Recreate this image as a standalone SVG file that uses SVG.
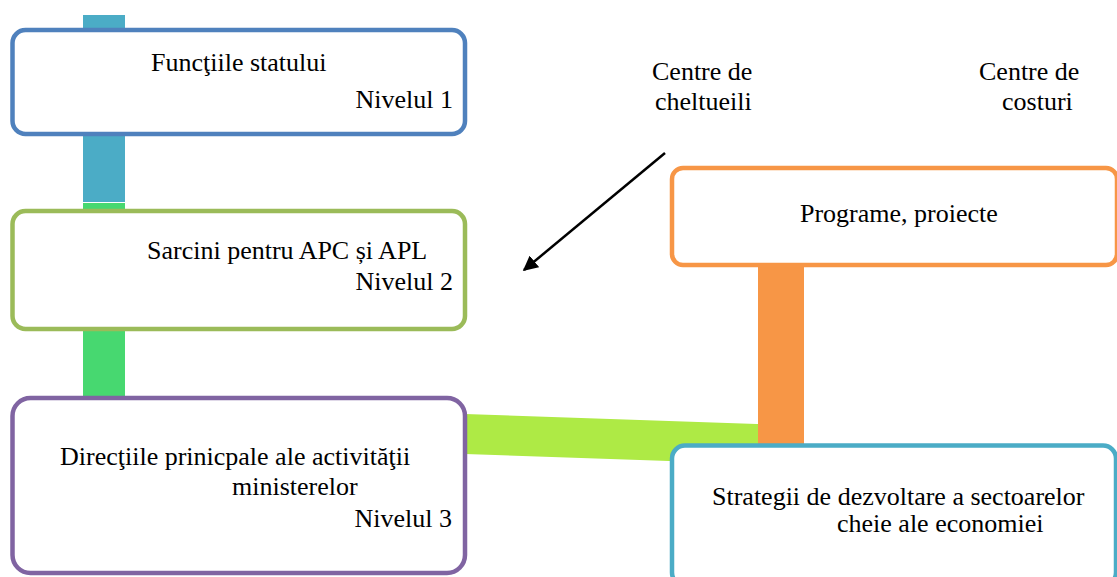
<svg xmlns="http://www.w3.org/2000/svg" width="1117" height="577" viewBox="0 0 1117 577">
<style>
.box{fill:#fff;stroke-width:4.5}
text{font-family:"Liberation Serif",Tinos,"Times New Roman","DejaVu Serif",serif;font-size:26px;fill:#000}
.e{text-anchor:end}
</style>
<defs>
<marker id="ah" viewBox="0 0 10 10" refX="9" refY="5" markerWidth="6" markerHeight="6" orient="auto" markerUnits="strokeWidth">
<path d="M0,0 L10,5 L0,10 z" fill="#000"/>
</marker>
</defs>
<g id="connectors">
<rect x="83" y="15" width="42" height="187" fill="#4BACC6"/>
<rect x="83" y="203" width="42" height="200" fill="#47D870"/>
<polygon points="465,414 770,424.5 770,464.5 465,454" fill="#AEEA45"/>
<rect x="758" y="255" width="46" height="195" fill="#F79646"/>
<line x1="665" y1="153" x2="524" y2="270" stroke="#000" stroke-width="2.5" marker-end="url(#ah)"/>
</g>
<g id="n1">
<rect class="box" x="12.5" y="30" width="452.5" height="104" rx="13" stroke="#4F81BD"/>
<text font-family="Liberation Serif, serif" x="151" y="71">Funcţiile statului</text>
<text font-family="Liberation Serif, serif" class="e" x="453" y="108">Nivelul 1</text>
</g>
<g id="n2">
<rect class="box" x="12.5" y="211" width="452.5" height="118" rx="13" stroke="#9BBB59"/>
<text font-family="Liberation Serif, serif" x="147" y="259">Sarcini pentru APC și APL</text>
<text font-family="Liberation Serif, serif" class="e" x="453" y="290">Nivelul 2</text>
</g>
<g id="n3">
<rect class="box" x="12.5" y="398" width="452.5" height="175" rx="18" stroke="#8064A2"/>
<text font-family="Liberation Serif, serif" x="60" y="465">Direcţiile prinicpale ale activităţii</text>
<text font-family="Liberation Serif, serif" x="232" y="495">ministerelor</text>
<text font-family="Liberation Serif, serif" class="e" x="452" y="527">Nivelul 3</text>
</g>
<g id="n4">
<rect class="box" x="672" y="168" width="445" height="97" rx="11" stroke="#F79646"/>
<text font-family="Liberation Serif, serif" x="800" y="222">Programe, proiecte</text>
</g>
<g id="n5">
<rect class="box" x="672" y="445.5" width="444" height="140" rx="13" stroke="#4BACC6"/>
<text font-family="Liberation Serif, serif" x="712" y="505">Strategii de dezvoltare a sectoarelor</text>
<text font-family="Liberation Serif, serif" x="837" y="532">cheie ale economiei</text>
</g>
<g id="labels">
<text font-family="Liberation Serif, serif" x="652" y="80">Centre de</text>
<text font-family="Liberation Serif, serif" x="655" y="110">cheltueili</text>
<text font-family="Liberation Serif, serif" x="979" y="80">Centre de</text>
<text font-family="Liberation Serif, serif" x="1002" y="110">costuri</text>
</g>
</svg>
